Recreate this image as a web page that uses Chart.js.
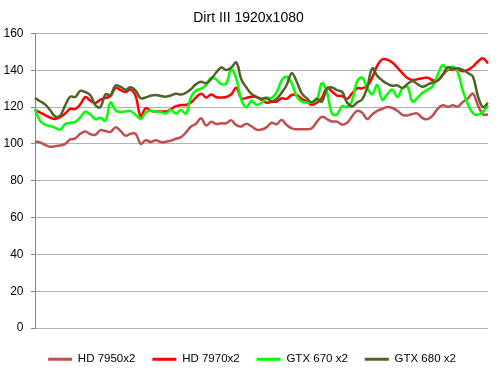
<!DOCTYPE html>
<html>
<head>
<meta charset="utf-8">
<script src="https://cdn.jsdelivr.net/npm/chart.js@4/dist/chart.umd.min.js"></script>
<style>
  html, body { margin: 0; padding: 0; background: #ffffff; }
  #wrap { width: 499px; height: 378px; }
</style>
</head>
<body>
<div id="wrap"><canvas id="c" width="499" height="378"></canvas></div>
<script>
const chartTitle = "Dirt III 1920x1080";
const seriesNames = ["HD 7950x2", "HD 7970x2", "GTX 670 x2", "GTX 680 x2"];
const yTicks = [0, 20, 40, 60, 80, 100, 120, 140, 160];

const categories = [1,2,3,4,5,6,7,8,9,10,11,12,13,14,15,16,17,18,19,20,21,22,23,24,25,26,27,28,29,30,
  31,32,33,34,35,36,37,38,39,40,41,42,43,44,45,46,47,48,49,50,51,52,53,54,55,56,57,58,59,60,
  61,62,63,64,65,66,67,68,69,70,71,72,73,74,75,76,77,78,79,80,81,82,83,84,85,86,87,88,89,90,91];

const hd7950 = [101.3,100.8,99.5,98.5,98.8,99.2,100,102.5,103,105.5,106.7,105.3,105,107.5,107,106.5,109,107,104.5,105.5,
  105.5,100,102,101,102,101,101.2,101.8,102.8,103.7,106.3,109.5,111,114,110,112,110.8,111.2,111.2,112.8,
  110.2,109.5,111,109.6,107.8,107.8,109,111.5,110.7,113,110.3,108.5,108,108,108,108.5,112,114.8,113.5,112.2,
  112.1,110.5,111.5,115,118,117,113.5,116,118,119,120,119.5,118,115.8,115.5,116.3,116.5,114,113.5,115.5,
  119,121,120.2,121,120.3,122.8,124.7,127.3,121,116.1,116];

const hd7970 = [118.5,117,115.7,114.3,113.6,114.5,116.5,119,119,121.5,125.5,123.5,122.3,124,125,126,130.5,129.2,128.2,129.5,
  126,115,119.5,118,117.6,117.8,117.6,118.8,120.5,121.1,121.2,122.5,125.3,127.3,125.2,126.8,125.4,125.2,125.5,127,
  130.5,124.8,125,125.7,125.5,124,122.4,122.9,123,124.8,124.5,126.6,126.5,124.5,123,121.3,122.4,125,130.5,128.5,
  126.3,126,124.5,127.5,130.2,130.2,131.5,136,142.5,146,145.8,144.2,141.5,138.5,135.8,134.7,135.2,135.7,136,134.7,
  134.7,137.5,140.2,140.5,140.5,139.5,140.2,142,144.8,146.5,143.8];

const gtx670 = [119,112.5,110.5,109.8,108.8,107.8,110.8,111.5,112,114.5,117.5,116,113.4,114.2,112.6,122.5,118.3,117.3,117.7,117.8,
  115.8,113.6,117,118.2,117.5,117.5,116.5,118.5,116.5,118.5,116.5,125.5,129,130,132,136,135,132.5,133,140.5,
  135.5,124,120,123.5,121.3,122.3,125,125,128,134.5,136.5,133,125.8,123,122.5,122.6,124,133,128,116.5,
  116,120.5,120,123.5,134,136,130.5,127,132,124,127,129.5,125.5,130,131,123,125,127.8,129.5,131.3,
  137.5,142.8,140.5,142,139,129,121.5,116.8,115.8,117.5,120.8];

const gtx680 = [125,123.2,121.5,118.4,115,115.4,121,125.7,125.5,128.8,128.2,126.5,121,120,127,126.5,131.8,131,129.5,130.8,
  129,124.8,125.3,126.2,126.6,126,125.7,126.3,127.3,126.8,127.8,129.8,132.5,133.8,133,135.2,138.8,141.5,140.2,141.5,
  144.2,135,130.7,127.2,125.6,124.6,125,123.2,124.5,127.8,132,138.4,133.8,127.5,124.8,122.6,124.5,123,130,130.7,
  129.2,128.4,122.5,120.5,122.5,124.2,130.5,141,137,134.5,132.7,131.6,131.8,130.5,132.6,134,132.5,131.1,132.2,133.4,
  134.3,137.5,141.7,140.8,141.1,140.2,138.5,136.6,126,120,122.3];

const seriesValues = [hd7950, hd7970, gtx670, gtx680];
const seriesColors = ["#C0504D", "#FF0000", "#00FF00", "#4F6228"];
const drawOrder = [4, 3, 2, 1];

const datasets = seriesNames.map((name, i) => ({
  label: name,
  data: seriesValues[i],
  borderColor: seriesColors[i],
  backgroundColor: seriesColors[i],
  borderWidth: 2.5,
  pointRadius: 0,
  pointHoverRadius: 0,
  tension: 0.4,
  fill: false,
  order: drawOrder[i]
}));

const FONT = "'Liberation Sans', Arial, sans-serif";

const boxShift = {
  id: 'boxShift',
  afterLayout(chart) {
    if (chart.legend) {
      chart.legend.left += 8;
      chart.legend.right += 8;
    }
    if (chart.titleBlock) {
      chart.titleBlock.left += 4.5;
      chart.titleBlock.right += 4.5;
    }
  }
};

new Chart(document.getElementById('c'), {
  type: 'line',
  data: { labels: categories, datasets },
  plugins: [boxShift],
  options: {
    responsive: false,
    animation: false,
    events: [],
    layout: { padding: { top: 0, left: 0, right: 11, bottom: 3 } },
    plugins: {
      title: {
        display: true,
        text: chartTitle,
        color: '#000000',
        font: { family: FONT, size: 14, weight: 'normal', lineHeight: 1.2 },
        padding: { top: 9.6, bottom: 7.1 }
      },
      legend: {
        display: true,
        position: 'bottom',
        labels: {
          color: '#000000',
          font: { family: FONT, size: 11.5 },
          boxWidth: 24,
          boxHeight: 3,
          padding: 17,
          sort: (a, b) => a.datasetIndex - b.datasetIndex,
          generateLabels: (chart) => Chart.defaults.plugins.legend.labels.generateLabels(chart)
            .map(l => Object.assign({}, l, { lineWidth: 0 }))
        }
      },
      tooltip: { enabled: false }
    },
    scales: {
      x: {
        type: 'category',
        display: true,
        offset: false,
        grid: { display: false },
        border: { display: false },
        ticks: { display: false },
        afterFit: (axis) => { axis.height = 8.5; }
      },
      y: {
        min: 0,
        max: 160,
        afterBuildTicks: (axis) => { axis.ticks = yTicks.map(v => ({ value: v })); },
        afterFit: (axis) => { axis.width = 35; },
        grid: {
          color: '#B3B3B3',
          lineWidth: 1,
          tickLength: 4,
          tickColor: '#868686',
          drawTicks: true
        },
        border: { display: true, color: '#868686', width: 1 },
        ticks: {
          color: '#000000',
          font: { family: FONT, size: 12 },
          padding: 7.5
        }
      }
    }
  }
});
</script>
</body>
</html>
